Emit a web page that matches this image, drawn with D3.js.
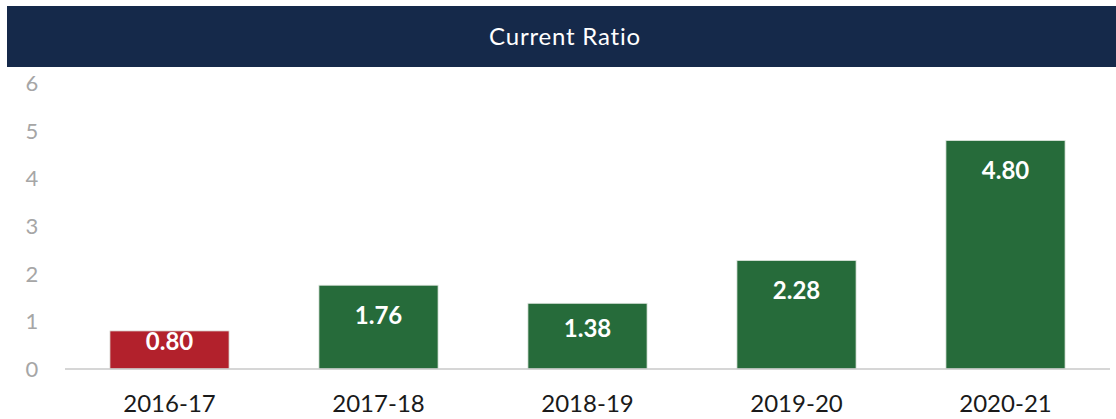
<!DOCTYPE html>
<html>
<head>
<meta charset="UTF-8" />
<title>Current Ratio</title>
<script src="https://cdn.jsdelivr.net/npm/d3@7"></script>
<style>
  body { margin: 0; background: #fff; }
  text { font-family: Lato, "Open Sans", sans-serif; }
</style>
</head>
<body>
<div id="chart"></div>
<script>
  var years = ["2016-17", "2017-18", "2018-19", "2019-20", "2020-21"];
  var ratios = [0.80, 1.76, 1.38, 2.28, 4.80];
  var barColors = ["#b2212c", "#266b3a", "#266b3a", "#266b3a", "#266b3a"];
  var yTicks = [0, 1, 2, 3, 4, 5, 6];

  var w = 1116, h = 419;
  var svg = d3.select("#chart").append("svg").attr("width", w).attr("height", h);

  // title banner
  svg.append("rect").attr("x", 7).attr("y", 6).attr("width", w - 7).attr("height", 61)
    .attr("fill", "#15294a");
  svg.append("text").attr("x", 565).attr("y", 37).attr("dy", "0.35em")
    .attr("text-anchor", "middle").attr("fill", "#fff")
    .style("font-size", "24px").style("letter-spacing", "0.8px").text("Current Ratio");

  var x = d3.scaleBand().domain(years).range([65, 1110])
    .paddingInner(0.43).paddingOuter(0.215);
  var y = d3.scaleLinear().domain([0, 6]).range([369, 83.4]);

  // y labels (no axis line)
  svg.append("g").selectAll("text").data(yTicks).enter().append("text")
    .attr("x", 32).attr("y", function(d){ return y(d); }).attr("dy", "0.35em")
    .attr("text-anchor", "middle").attr("fill", "#a6a6a6")
    .style("font-size", "22px").text(function(d){ return d; });

  svg.selectAll("rect.bar").data(ratios).enter().append("rect")
    .attr("class", "bar")
    .attr("x", function(d, i){ return x(years[i]); })
    .attr("y", function(d){ return y(d); })
    .attr("width", x.bandwidth())
    .attr("height", function(d){ return y(0) - y(d); })
    .attr("fill", function(d, i){ return barColors[i]; })
    .attr("stroke", "#dfe6df").attr("stroke-width", 0.8);

  // baseline
  svg.append("line").attr("x1", 65).attr("x2", 1110)
    .attr("y1", y(0)).attr("y2", y(0))
    .attr("stroke", "#c8c8c8").attr("stroke-width", 1.5);

  // value labels inside end
  svg.selectAll("text.val").data(ratios).enter().append("text")
    .attr("class", "val")
    .attr("x", function(d, i){ return x(years[i]) + x.bandwidth() / 2; })
    .attr("y", function(d){ return y(d) + Math.min(30, (y(0) - y(d)) / 2 - 8); })
    .attr("dy", "0.35em").attr("text-anchor", "middle")
    .attr("fill", "#fff").style("font-size", "24px").style("font-weight", "bold")
    .text(function(d){ return d.toFixed(2); });

  // x labels
  svg.selectAll("text.cat").data(years).enter().append("text")
    .attr("class", "cat")
    .attr("x", function(d){ return x(d) + x.bandwidth() / 2; })
    .attr("y", 404).attr("dy", "0.35em").attr("text-anchor", "middle")
    .attr("fill", "#1a1a1a").style("font-size", "24px")
    .text(function(d){ return d; });
</script>
</body>
</html>
